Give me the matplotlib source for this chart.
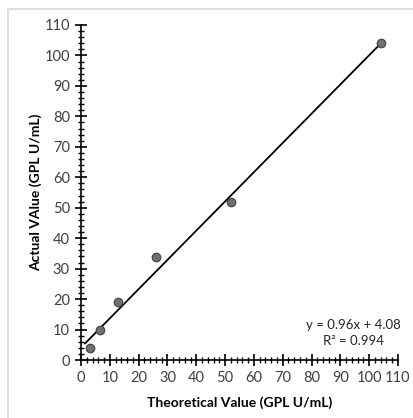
import numpy as np
import matplotlib.pyplot as plt
from matplotlib.patches import Rectangle
from matplotlib.ticker import MultipleLocator

theoretical = [3.25, 6.5, 13, 26, 52, 104]
actual = [3.8, 9.9, 18.9, 33.7, 52.0, 104.0]
slope, intercept = 0.96, 4.08
r2 = 0.994

W, H = 414, 418
fig = plt.figure(figsize=(W / 100, H / 100), dpi=100)
plt.rcParams['font.family'] = ['Lato', 'DejaVu Sans']

# light chart-area frame
fig.patches.append(Rectangle((8 / W, -0.1), 2, 1 - 9 / H + 0.1, transform=fig.transFigure,
                             fill=False, edgecolor='#d9d9d9', linewidth=1.2))

ax = fig.add_axes([81 / W, 1 - 360 / H, (398 - 81) / W, (360 - 25) / H])
ax.set_xlim(0, 110)
ax.set_ylim(0, 110)
ax.patch.set_alpha(0)

xs = np.array([1.4, max(theoretical)])
ax.plot(xs, slope * xs + intercept, color='black', linewidth=1.3, zorder=2)
ax.scatter(theoretical, actual, s=38, color='#707070', edgecolor='#404040',
           linewidth=0.8, zorder=3, clip_on=False)

for s in ['top', 'right']:
    ax.spines[s].set_visible(False)
for s in ['left', 'bottom']:
    ax.spines[s].set_linewidth(1.2)
    ax.spines[s].set_color('black')

ax.xaxis.set_major_locator(MultipleLocator(10))
ax.yaxis.set_major_locator(MultipleLocator(10))
ax.xaxis.set_minor_locator(MultipleLocator(2))
ax.yaxis.set_minor_locator(MultipleLocator(2))
ax.tick_params(which='major', direction='inout', length=8, width=1.2, color='black',
               labelsize=10.5, labelcolor='#404040')
ax.tick_params(which='minor', direction='inout', length=4, width=1, color='black')
ax.tick_params(axis='x', which='major', pad=4)
ax.tick_params(axis='y', which='major', pad=4)

ax.set_xlabel('Theoretical Value (GPL U/mL)', fontsize=10, fontweight='bold', labelpad=8)
ax.set_ylabel('Actual VAlue (GPL U/mL)', fontsize=10, fontweight='bold', labelpad=2)

ax.text(94.4, 8.9, f'y = {slope:.2f}x + {intercept:.2f}\nR² = {r2:.3f}', ha='center',
        va='center', fontsize=9.5, color='#262626', linespacing=1.45)

fig.savefig('out.png', dpi=100)
